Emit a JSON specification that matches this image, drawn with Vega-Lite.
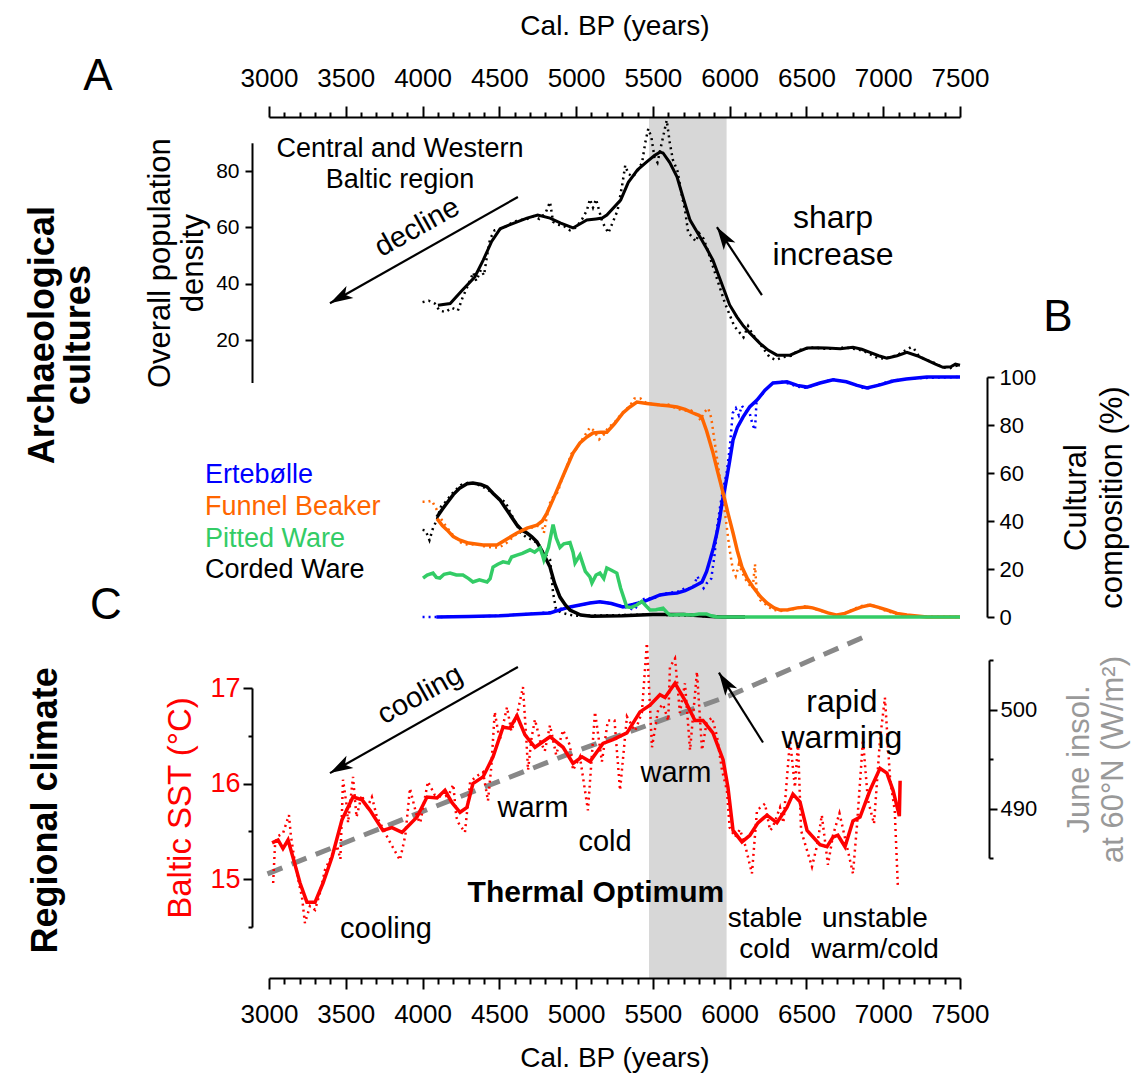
{
"$schema": "https://vega.github.io/schema/vega-lite/v6.json",
"width": 691, "height": 861,
"autosize": {"type": "none"},
"padding": {"left": 269, "top": 117, "right": 181, "bottom": 104},
"background": "white",
"config": {"font": "Liberation Sans", "view": {"stroke": null},
  "axis": {"grid": false, "labelFont": "Liberation Sans", "titleFont": "Liberation Sans", "domainColor": "black", "tickColor": "black", "labelColor": "black", "titleColor": "black", "titleFontWeight": "normal", "domainWidth": 2, "tickWidth": 2, "labelFlush": false, "labelOverlap": false}},
"datasets": {
  "band": [{"start": 5475, "end": 5980}],
  "popS": [{"year":4100,"v":32.4},{"year":4180,"v":33},{"year":4260,"v":37.8},{"year":4340,"v":42.4},{"year":4395,"v":48.4},{"year":4450,"v":55},{"year":4505,"v":59.5},{"year":4570,"v":61},{"year":4680,"v":63.3},{"year":4750,"v":64.4},{"year":4830,"v":63.3},{"year":4900,"v":61.5},{"year":4980,"v":59.8},{"year":5070,"v":62.6},{"year":5130,"v":63},{"year":5170,"v":63.3},{"year":5200,"v":64.4},{"year":5290,"v":69.7},{"year":5340,"v":76},{"year":5400,"v":80.4},{"year":5460,"v":83.2},{"year":5510,"v":85.5},{"year":5546,"v":86.7},{"year":5566,"v":86.4},{"year":5610,"v":83},{"year":5657,"v":77.9},{"year":5700,"v":70},{"year":5742,"v":62.6},{"year":5807,"v":56.6},{"year":5850,"v":52.5},{"year":5891,"v":48.4},{"year":5957,"v":38.8},{"year":6000,"v":32.5},{"year":6048,"v":28.2},{"year":6090,"v":25},{"year":6132,"v":22.5},{"year":6197,"v":18.9},{"year":6250,"v":16.5},{"year":6308,"v":14.7},{"year":6393,"v":14.7},{"year":6450,"v":16},{"year":6504,"v":17.2},{"year":6570,"v":17.3},{"year":6634,"v":17.2},{"year":6720,"v":17},{"year":6803,"v":17.5},{"year":6860,"v":16.8},{"year":6914,"v":15.7},{"year":6970,"v":14.5},{"year":7024,"v":13.6},{"year":7090,"v":14.5},{"year":7154,"v":15.7},{"year":7220,"v":14.5},{"year":7284,"v":12.9},{"year":7340,"v":11.5},{"year":7389,"v":10.4},{"year":7440,"v":10.6},{"year":7470,"v":11.5},{"year":7500,"v":11.1}],
  "popR": [{"year":4000,"v":33.5},{"year":4040,"v":34},{"year":4080,"v":33},{"year":4110,"v":30.5},{"year":4150,"v":30},{"year":4190,"v":31.5},{"year":4230,"v":30.5},{"year":4260,"v":35},{"year":4300,"v":40},{"year":4330,"v":44},{"year":4350,"v":41},{"year":4380,"v":45},{"year":4400,"v":43},{"year":4420,"v":50},{"year":4440,"v":56},{"year":4470,"v":59},{"year":4520,"v":59.5},{"year":4560,"v":61},{"year":4620,"v":62.5},{"year":4680,"v":63},{"year":4720,"v":64},{"year":4760,"v":63},{"year":4800,"v":65},{"year":4830,"v":69},{"year":4850,"v":62},{"year":4880,"v":61},{"year":4920,"v":60.5},{"year":4960,"v":59},{"year":5000,"v":60},{"year":5040,"v":63},{"year":5070,"v":66},{"year":5090,"v":70},{"year":5110,"v":67},{"year":5130,"v":70},{"year":5150,"v":66},{"year":5170,"v":62},{"year":5190,"v":60},{"year":5210,"v":58},{"year":5240,"v":62},{"year":5270,"v":66},{"year":5300,"v":75},{"year":5320,"v":82},{"year":5340,"v":79},{"year":5370,"v":78},{"year":5400,"v":80},{"year":5430,"v":83},{"year":5450,"v":90},{"year":5470,"v":95},{"year":5490,"v":92},{"year":5510,"v":85},{"year":5530,"v":83},{"year":5550,"v":88},{"year":5570,"v":93},{"year":5590,"v":98},{"year":5610,"v":90},{"year":5630,"v":84},{"year":5660,"v":80},{"year":5690,"v":71},{"year":5710,"v":66},{"year":5730,"v":58},{"year":5750,"v":57},{"year":5780,"v":55},{"year":5800,"v":58},{"year":5830,"v":56},{"year":5850,"v":53},{"year":5880,"v":48},{"year":5910,"v":43},{"year":5940,"v":38},{"year":5970,"v":33},{"year":6000,"v":29},{"year":6030,"v":25},{"year":6060,"v":23},{"year":6090,"v":21},{"year":6120,"v":25},{"year":6150,"v":22},{"year":6180,"v":20},{"year":6220,"v":17},{"year":6260,"v":14},{"year":6300,"v":13},{"year":6350,"v":14},{"year":6400,"v":14.5},{"year":6450,"v":16.5},{"year":6500,"v":17},{"year":6550,"v":17.5},{"year":6600,"v":17},{"year":6650,"v":17},{"year":6700,"v":17},{"year":6750,"v":17.5},{"year":6800,"v":17},{"year":6850,"v":16.5},{"year":6900,"v":15.5},{"year":6950,"v":14},{"year":7000,"v":13.5},{"year":7050,"v":14},{"year":7100,"v":15},{"year":7150,"v":16.5},{"year":7180,"v":17.5},{"year":7200,"v":17},{"year":7230,"v":14.5},{"year":7280,"v":13},{"year":7330,"v":12},{"year":7380,"v":10.5},{"year":7430,"v":10},{"year":7480,"v":11},{"year":7500,"v":12}],
  "ertS": [{"year":4090,"v":0},{"year":4300,"v":0.2},{"year":4500,"v":0.5},{"year":4700,"v":1.2},{"year":4830,"v":1.7},{"year":4895,"v":3},{"year":4960,"v":4.2},{"year":5025,"v":5},{"year":5090,"v":5.8},{"year":5155,"v":6.3},{"year":5230,"v":5.6},{"year":5305,"v":4.2},{"year":5370,"v":5.2},{"year":5435,"v":6.3},{"year":5500,"v":8},{"year":5546,"v":9.2},{"year":5600,"v":9.7},{"year":5657,"v":10},{"year":5710,"v":11},{"year":5761,"v":12.5},{"year":5820,"v":14.6},{"year":5850,"v":19},{"year":5872,"v":23.8},{"year":5895,"v":29},{"year":5917,"v":35},{"year":5935,"v":41},{"year":5950,"v":47.5},{"year":5967,"v":53},{"year":5982,"v":58.3},{"year":6000,"v":65},{"year":6022,"v":73.8},{"year":6050,"v":79},{"year":6087,"v":83.3},{"year":6130,"v":87.5},{"year":6178,"v":90.4},{"year":6230,"v":94.5},{"year":6282,"v":97.5},{"year":6373,"v":98},{"year":6440,"v":96.5},{"year":6503,"v":95.8},{"year":6588,"v":97.5},{"year":6673,"v":98.8},{"year":6760,"v":98},{"year":6830,"v":96.5},{"year":6894,"v":95.4},{"year":6979,"v":96.7},{"year":7064,"v":98.3},{"year":7150,"v":99.2},{"year":7284,"v":100},{"year":7500,"v":100}],
  "ertR": [{"year":4000,"v":0},{"year":4050,"v":0},{"year":4100,"v":0},{"year":4300,"v":0.2},{"year":4500,"v":0.5},{"year":4700,"v":1.3},{"year":4830,"v":2},{"year":4900,"v":3.5},{"year":5000,"v":4.5},{"year":5100,"v":6},{"year":5200,"v":6},{"year":5300,"v":4.5},{"year":5380,"v":3},{"year":5420,"v":7},{"year":5460,"v":8},{"year":5500,"v":7.5},{"year":5540,"v":9},{"year":5600,"v":10},{"year":5660,"v":10.5},{"year":5710,"v":12},{"year":5760,"v":12},{"year":5790,"v":17},{"year":5810,"v":14},{"year":5830,"v":12},{"year":5850,"v":14},{"year":5880,"v":16},{"year":5900,"v":25},{"year":5920,"v":38},{"year":5940,"v":47},{"year":5960,"v":54},{"year":5980,"v":60},{"year":6000,"v":70},{"year":6020,"v":85},{"year":6040,"v":87},{"year":6060,"v":84},{"year":6080,"v":88},{"year":6100,"v":86},{"year":6130,"v":85},{"year":6150,"v":80},{"year":6165,"v":78},{"year":6175,"v":90},{"year":6200,"v":92},{"year":6240,"v":95},{"year":6280,"v":97.5},{"year":6350,"v":98},{"year":6440,"v":96},{"year":6500,"v":95.5},{"year":6590,"v":97.5},{"year":6670,"v":99},{"year":6760,"v":98},{"year":6890,"v":95},{"year":6980,"v":97},{"year":7060,"v":98.5},{"year":7200,"v":99.5},{"year":7500,"v":100}],
  "fbS": [{"year":4094,"v":41},{"year":4130,"v":38},{"year":4159,"v":36.3},{"year":4200,"v":33.5},{"year":4244,"v":32},{"year":4300,"v":30.8},{"year":4394,"v":30},{"year":4485,"v":30},{"year":4550,"v":32.5},{"year":4615,"v":35},{"year":4680,"v":37},{"year":4745,"v":38.3},{"year":4780,"v":40},{"year":4810,"v":43.3},{"year":4850,"v":49},{"year":4895,"v":55.8},{"year":4940,"v":62.5},{"year":4980,"v":68.3},{"year":5025,"v":72.5},{"year":5070,"v":75},{"year":5110,"v":76.7},{"year":5160,"v":77},{"year":5200,"v":77},{"year":5250,"v":80.5},{"year":5305,"v":85},{"year":5350,"v":87.5},{"year":5396,"v":89.6},{"year":5460,"v":89},{"year":5546,"v":88.3},{"year":5600,"v":88},{"year":5657,"v":87.5},{"year":5710,"v":86.5},{"year":5761,"v":85},{"year":5800,"v":84},{"year":5820,"v":83},{"year":5850,"v":77.5},{"year":5892,"v":68.3},{"year":5920,"v":61},{"year":5957,"v":51.7},{"year":5990,"v":43},{"year":6022,"v":35},{"year":6050,"v":27.5},{"year":6080,"v":20.8},{"year":6115,"v":16},{"year":6152,"v":12.5},{"year":6200,"v":8.5},{"year":6243,"v":5.8},{"year":6290,"v":3.8},{"year":6328,"v":2.9},{"year":6380,"v":3},{"year":6440,"v":3.8},{"year":6503,"v":4.2},{"year":6540,"v":3.8},{"year":6588,"v":2.9},{"year":6640,"v":1.7},{"year":6699,"v":0.8},{"year":6750,"v":1.5},{"year":6803,"v":2.9},{"year":6860,"v":4.2},{"year":6914,"v":5},{"year":6970,"v":4},{"year":7024,"v":2.9},{"year":7090,"v":1.5},{"year":7154,"v":0.8},{"year":7284,"v":0},{"year":7500,"v":0}],
  "fbR": [{"year":4000,"v":48},{"year":4030,"v":48},{"year":4060,"v":48.5},{"year":4090,"v":45},{"year":4110,"v":42},{"year":4150,"v":38},{"year":4200,"v":34},{"year":4250,"v":31},{"year":4300,"v":30},{"year":4350,"v":30.5},{"year":4400,"v":29.5},{"year":4450,"v":29},{"year":4500,"v":29},{"year":4550,"v":31},{"year":4600,"v":34},{"year":4650,"v":36},{"year":4700,"v":37},{"year":4750,"v":38},{"year":4780,"v":37.5},{"year":4790,"v":35},{"year":4810,"v":42},{"year":4830,"v":47.5},{"year":4850,"v":50},{"year":4880,"v":52},{"year":4900,"v":56},{"year":4940,"v":63},{"year":4970,"v":68},{"year":5000,"v":70},{"year":5030,"v":73},{"year":5060,"v":76},{"year":5090,"v":79},{"year":5110,"v":78},{"year":5130,"v":76},{"year":5150,"v":74},{"year":5180,"v":76},{"year":5210,"v":79},{"year":5250,"v":81},{"year":5300,"v":85},{"year":5350,"v":88},{"year":5380,"v":91},{"year":5420,"v":91},{"year":5460,"v":89},{"year":5520,"v":88.5},{"year":5560,"v":88},{"year":5600,"v":88.5},{"year":5650,"v":87},{"year":5700,"v":86},{"year":5750,"v":86},{"year":5790,"v":84},{"year":5810,"v":82},{"year":5830,"v":85},{"year":5860,"v":87},{"year":5880,"v":83},{"year":5900,"v":74},{"year":5920,"v":65},{"year":5940,"v":56},{"year":5960,"v":48},{"year":5980,"v":38},{"year":6000,"v":28},{"year":6020,"v":20},{"year":6040,"v":17},{"year":6060,"v":22},{"year":6080,"v":19},{"year":6100,"v":16},{"year":6120,"v":14},{"year":6150,"v":12},{"year":6165,"v":22},{"year":6175,"v":11},{"year":6200,"v":7},{"year":6240,"v":5},{"year":6280,"v":3},{"year":6330,"v":2.5},{"year":6400,"v":3},{"year":6450,"v":4},{"year":6500,"v":4.5},{"year":6550,"v":3.5},{"year":6600,"v":2.5},{"year":6650,"v":1.5},{"year":6700,"v":0.8},{"year":6750,"v":1.5},{"year":6800,"v":3},{"year":6850,"v":4.5},{"year":6900,"v":5},{"year":6950,"v":4.5},{"year":7000,"v":3},{"year":7100,"v":1},{"year":7200,"v":0.3},{"year":7500,"v":0}],
  "pwS": [{"year":4003,"v":16.2},{"year":4030,"v":17.5},{"year":4068,"v":18.3},{"year":4090,"v":16.5},{"year":4113,"v":16.2},{"year":4140,"v":17.8},{"year":4179,"v":18.3},{"year":4220,"v":17.5},{"year":4263,"v":17.5},{"year":4300,"v":16},{"year":4328,"v":14.6},{"year":4370,"v":15.5},{"year":4420,"v":14.6},{"year":4440,"v":16},{"year":4459,"v":20.8},{"year":4490,"v":22},{"year":4524,"v":23},{"year":4560,"v":22.5},{"year":4580,"v":25},{"year":4615,"v":25.8},{"year":4650,"v":26.5},{"year":4700,"v":28},{"year":4730,"v":27},{"year":4765,"v":28.8},{"year":4780,"v":26},{"year":4790,"v":23.8},{"year":4820,"v":29},{"year":4850,"v":38.5},{"year":4870,"v":33},{"year":4895,"v":29},{"year":4920,"v":30.5},{"year":4960,"v":31},{"year":4980,"v":27},{"year":4993,"v":22.5},{"year":5025,"v":25.8},{"year":5060,"v":19},{"year":5090,"v":16.7},{"year":5103,"v":14.2},{"year":5130,"v":17.5},{"year":5155,"v":18.3},{"year":5180,"v":16},{"year":5200,"v":20.4},{"year":5230,"v":19.5},{"year":5265,"v":18.3},{"year":5290,"v":12},{"year":5330,"v":4.2},{"year":5360,"v":4},{"year":5396,"v":5},{"year":5428,"v":6.5},{"year":5450,"v":5},{"year":5481,"v":2.9},{"year":5520,"v":3},{"year":5566,"v":3.7},{"year":5590,"v":2},{"year":5611,"v":0.8},{"year":5700,"v":1},{"year":5761,"v":0.8},{"year":5800,"v":1.2},{"year":5850,"v":1.2},{"year":5880,"v":0.5},{"year":5917,"v":0},{"year":7500,"v":0}],
  "cwS": [{"year":4094,"v":41.7},{"year":4130,"v":45},{"year":4159,"v":47.5},{"year":4200,"v":51},{"year":4244,"v":53.8},{"year":4290,"v":55.5},{"year":4328,"v":55.8},{"year":4380,"v":55.2},{"year":4420,"v":54.2},{"year":4460,"v":51.5},{"year":4504,"v":48.8},{"year":4560,"v":43.5},{"year":4615,"v":38.3},{"year":4650,"v":36},{"year":4680,"v":35},{"year":4710,"v":33.5},{"year":4745,"v":31.3},{"year":4790,"v":26},{"year":4830,"v":20.8},{"year":4860,"v":14},{"year":4895,"v":8.3},{"year":4930,"v":5},{"year":4960,"v":2.9},{"year":5030,"v":0.8},{"year":5100,"v":0.3},{"year":5300,"v":0.5},{"year":5500,"v":1},{"year":5700,"v":1},{"year":5850,"v":0.3},{"year":5950,"v":0},{"year":6100,"v":0}],
  "cwR": [{"year":4000,"v":36.3},{"year":4020,"v":36},{"year":4045,"v":32},{"year":4068,"v":37},{"year":4090,"v":40},{"year":4120,"v":46},{"year":4150,"v":48},{"year":4200,"v":52},{"year":4250,"v":55},{"year":4300,"v":56},{"year":4350,"v":55.5},{"year":4400,"v":54},{"year":4450,"v":52},{"year":4500,"v":49},{"year":4540,"v":48},{"year":4560,"v":45},{"year":4600,"v":40},{"year":4640,"v":35},{"year":4680,"v":33},{"year":4720,"v":32},{"year":4760,"v":30},{"year":4784,"v":27},{"year":4800,"v":26},{"year":4830,"v":24},{"year":4850,"v":10},{"year":4870,"v":3},{"year":4900,"v":2},{"year":4950,"v":1},{"year":5000,"v":0.5},{"year":5500,"v":1},{"year":5800,"v":0.5},{"year":5900,"v":0}],
  "sstS": [{"year":3020,"v":15.38},{"year":3059,"v":15.41},{"year":3091,"v":15.32},{"year":3124,"v":15.41},{"year":3156,"v":15.23},{"year":3202,"v":14.96},{"year":3247,"v":14.76},{"year":3300,"v":14.76},{"year":3352,"v":14.96},{"year":3410,"v":15.23},{"year":3475,"v":15.62},{"year":3547,"v":15.86},{"year":3606,"v":15.83},{"year":3658,"v":15.72},{"year":3742,"v":15.51},{"year":3801,"v":15.54},{"year":3866,"v":15.49},{"year":3964,"v":15.65},{"year":4029,"v":15.86},{"year":4094,"v":15.85},{"year":4146,"v":15.93},{"year":4192,"v":15.8},{"year":4244,"v":15.7},{"year":4289,"v":15.75},{"year":4328,"v":16.0},{"year":4394,"v":16.07},{"year":4459,"v":16.28},{"year":4524,"v":16.59},{"year":4569,"v":16.58},{"year":4615,"v":16.71},{"year":4667,"v":16.51},{"year":4732,"v":16.38},{"year":4830,"v":16.49},{"year":4915,"v":16.38},{"year":4980,"v":16.21},{"year":5038,"v":16.28},{"year":5090,"v":16.23},{"year":5175,"v":16.42},{"year":5240,"v":16.46},{"year":5331,"v":16.53},{"year":5416,"v":16.75},{"year":5481,"v":16.82},{"year":5546,"v":16.93},{"year":5579,"v":16.9},{"year":5644,"v":17.05},{"year":5709,"v":16.87},{"year":5774,"v":16.66},{"year":5826,"v":16.66},{"year":5891,"v":16.53},{"year":5957,"v":16.25},{"year":5989,"v":15.96},{"year":6022,"v":15.51},{"year":6080,"v":15.39},{"year":6132,"v":15.46},{"year":6184,"v":15.59},{"year":6243,"v":15.67},{"year":6308,"v":15.59},{"year":6373,"v":15.75},{"year":6412,"v":15.89},{"year":6458,"v":15.81},{"year":6504,"v":15.51},{"year":6588,"v":15.36},{"year":6634,"v":15.34},{"year":6673,"v":15.44},{"year":6705,"v":15.46},{"year":6751,"v":15.34},{"year":6803,"v":15.61},{"year":6849,"v":15.65},{"year":6914,"v":15.93},{"year":6979,"v":16.16},{"year":7024,"v":16.11},{"year":7064,"v":15.93},{"year":7105,"v":15.66},{"year":7110,"v":16.03}],
  "sstR": [{"year":3027,"v":14.96},{"year":3040,"v":15.38},{"year":3059,"v":15.45},{"year":3091,"v":15.48},{"year":3130,"v":15.67},{"year":3143,"v":15.45},{"year":3169,"v":15.17},{"year":3195,"v":14.96},{"year":3215,"v":14.81},{"year":3234,"v":14.54},{"year":3267,"v":14.72},{"year":3300,"v":14.68},{"year":3332,"v":14.86},{"year":3365,"v":15.1},{"year":3398,"v":15.21},{"year":3443,"v":15.35},{"year":3465,"v":15.21},{"year":3482,"v":16.04},{"year":3504,"v":15.79},{"year":3515,"v":15.59},{"year":3547,"v":16.07},{"year":3570,"v":15.65},{"year":3604,"v":15.88},{"year":3637,"v":15.74},{"year":3670,"v":15.86},{"year":3703,"v":15.65},{"year":3790,"v":15.38},{"year":3853,"v":15.2},{"year":3888,"v":15.46},{"year":3918,"v":15.95},{"year":3964,"v":15.65},{"year":3985,"v":15.59},{"year":4035,"v":16.02},{"year":4080,"v":15.88},{"year":4137,"v":15.86},{"year":4170,"v":15.88},{"year":4200,"v":15.99},{"year":4220,"v":15.65},{"year":4233,"v":15.59},{"year":4276,"v":15.49},{"year":4310,"v":16.02},{"year":4364,"v":16.09},{"year":4394,"v":16.12},{"year":4426,"v":15.82},{"year":4448,"v":16.18},{"year":4470,"v":16.75},{"year":4502,"v":16.45},{"year":4550,"v":16.8},{"year":4578,"v":16.55},{"year":4615,"v":16.72},{"year":4654,"v":17.01},{"year":4676,"v":16.46},{"year":4687,"v":16.14},{"year":4710,"v":16.48},{"year":4732,"v":16.67},{"year":4765,"v":16.45},{"year":4796,"v":16.34},{"year":4830,"v":16.61},{"year":4870,"v":16.3},{"year":4915,"v":16.56},{"year":4960,"v":16.4},{"year":4980,"v":16.14},{"year":5025,"v":16.28},{"year":5077,"v":15.72},{"year":5123,"v":16.75},{"year":5168,"v":16.23},{"year":5207,"v":16.66},{"year":5250,"v":16.66},{"year":5286,"v":15.93},{"year":5331,"v":16.7},{"year":5384,"v":16.55},{"year":5428,"v":16.74},{"year":5461,"v":17.47},{"year":5494,"v":16.38},{"year":5535,"v":16.78},{"year":5566,"v":16.83},{"year":5600,"v":16.66},{"year":5611,"v":17.22},{"year":5644,"v":17.31},{"year":5676,"v":16.74},{"year":5709,"v":17.05},{"year":5742,"v":16.35},{"year":5787,"v":17.17},{"year":5820,"v":16.35},{"year":5850,"v":16.64},{"year":5885,"v":16.69},{"year":5917,"v":16.5},{"year":5950,"v":16.14},{"year":5982,"v":15.93},{"year":6000,"v":15.54},{"year":6035,"v":15.44},{"year":6067,"v":15.52},{"year":6100,"v":15.36},{"year":6145,"v":15.06},{"year":6178,"v":15.72},{"year":6230,"v":15.79},{"year":6263,"v":15.51},{"year":6280,"v":15.54},{"year":6328,"v":15.75},{"year":6350,"v":15.59},{"year":6393,"v":16.46},{"year":6425,"v":15.96},{"year":6445,"v":16.43},{"year":6465,"v":15.51},{"year":6536,"v":15.13},{"year":6570,"v":15.36},{"year":6600,"v":15.67},{"year":6640,"v":15.15},{"year":6673,"v":15.46},{"year":6715,"v":15.69},{"year":6803,"v":15.06},{"year":6830,"v":15.58},{"year":6868,"v":16.46},{"year":6900,"v":15.83},{"year":6940,"v":15.58},{"year":6979,"v":16.46},{"year":7011,"v":16.9},{"year":7045,"v":16.04},{"year":7075,"v":15.72},{"year":7096,"v":14.9}],
  "insol": [{"year":2990,"v":483.4},{"year":4000,"v":489.7},{"year":5000,"v":495.8},{"year":6000,"v":501.4},{"year":6900,"v":507.5}],
  "arrows": [
    {"panel":"A","name":"decline","year":4621,"val":70.8,"year2":3397,"val2":33.1},
    {"panel":"A","name":"sharp","year":6210,"val":36,"year2":5917,"val2":60.1},
    {"panel":"C","name":"cooling","year":4621,"val":17.22,"year2":3397,"val2":16.11},
    {"panel":"C","name":"rapid","year":6217,"val":16.43,"year2":5930,"val2":17.16}],
  "notes": [
    {"key":"region","label":"Central and Western\nBaltic region","year":3853,"val":85.0},
    {"key":"decline","label":"decline","year":3964,"val":60.1},
    {"key":"sharp","label":"sharp\nincrease","year":6673,"val":59.8},
    {"key":"A","label":"A","year":1886,"val":108.8},
    {"key":"arch","label":"Archaeological\ncultures","year":1600,"val":21.8},
    {"key":"B","label":"B","year":8138,"val":119.2},
    {"key":"leg","label":"Ertebølle","year":2583,"val":55.8},
    {"key":"leg","label":"Funnel Beaker","year":2583,"val":42.5},
    {"key":"leg","label":"Pitted Ware","year":2583,"val":29.2},
    {"key":"leg","label":"Corded Ware","year":2583,"val":16.25},
    {"key":"C","label":"C","year":1938,"val":17.72},
    {"key":"cooling1","label":"cooling","year":3983,"val":16.93},
    {"key":"rapid","label":"rapid\nwarming","year":6731,"val":16.75},
    {"key":"plain","label":"warm","year":4719,"val":15.65},
    {"key":"plain","label":"cold","year":5188,"val":15.29},
    {"key":"plain","label":"warm","year":5650,"val":16.02},
    {"key":"plain","label":"cooling","year":3762,"val":14.39},
    {"key":"thermal","label":"Thermal Optimum","year":5129,"val":14.76},
    {"key":"pair","label":"stable\ncold","year":6230,"val":14.5},
    {"key":"pair","label":"unstable\nwarm/cold","year":6946,"val":14.5},
    {"key":"regional","label":"Regional climate","year":1620,"val":15.72}]
},
"resolve": {"scale": {"y": "independent"}, "axis": {"x": "independent", "y": "independent"}},
"layer": [
  {"data": {"name": "band"}, "mark": {"type": "rect", "color": "#d7d7d7"},
   "encoding": {
     "x": {"field": "start", "type": "quantitative", "scale": {"domain": [3000, 7500], "nice": false, "zero": false},
       "axis": {"orient": "top", "values": [3000,3500,4000,4500,5000,5500,6000,6500,7000,7500], "format": "d", "tickSize": 11, "labelFontSize": 26, "labelPadding": 15, "title": "Cal. BP (years)", "titleFontSize": 28, "titlePadding": 25, "zindex": 1}},
     "x2": {"field": "end"}}},
  {"data": {"name": "insol"}, "resolve": {"axis": {"x": "independent", "y": "independent"}},
   "layer": [
     {"mark": {"type": "line", "color": "#888888", "strokeWidth": 5, "strokeDash": [16, 10]},
      "encoding": {
        "x": {"field": "year", "type": "quantitative", "scale": {"domain": [3000, 7500], "nice": false, "zero": false}, "axis": null},
        "y": {"field": "v", "type": "quantitative", "scale": {"domain": [485, 505], "range": [741, 543], "nice": false, "zero": false},
          "axis": {"orient": "right", "offset": 29, "values": [490, 500], "tickSize": 8, "labelFontSize": 22, "labelPadding": 3, "title": ["June insol.", "at 60°N (W/m²)"], "titleColor": "#999999", "titleFontSize": 31, "titleAngle": -90, "titleBaseline": "top", "titleLineHeight": 34, "titlePadding": -6}}}},
     {"mark": {"type": "line", "strokeOpacity": 0},
      "encoding": {
        "x": {"field": "year", "type": "quantitative", "scale": {"domain": [3000, 7500], "nice": false, "zero": false}, "axis": null},
        "y": {"field": "v", "type": "quantitative", "scale": {"domain": [485, 505], "range": [741, 543], "nice": false, "zero": false},
          "axis": {"orient": "right", "offset": 29, "values": [485, 495, 505], "tickSize": 4, "labels": false, "domain": false, "title": null}}}}
   ]},
  {"resolve": {"axis": {"x": "independent", "y": "independent"}},
   "layer": [
     {"data": {"name": "popR"}, "mark": {"type": "line", "color": "black", "strokeWidth": 2.5, "strokeDash": [2, 4]},
      "encoding": {
        "x": {"field": "year", "type": "quantitative", "scale": {"domain": [3000, 7500], "nice": false, "zero": false},
          "axis": {"orient": "top", "values": [3100,3200,3300,3400,3600,3700,3800,3900,4100,4200,4300,4400,4600,4700,4800,4900,5100,5200,5300,5400,5600,5700,5800,5900,6100,6200,6300,6400,6600,6700,6800,6900,7100,7200,7300,7400], "tickSize": 5, "labels": false, "domain": false, "title": null, "zindex": 1}},
        "y": {"field": "v", "type": "quantitative", "scale": {"domain": [5, 90], "range": [265.5, 25.8], "nice": false, "zero": false},
          "axis": {"orient": "left", "offset": 17, "values": [20, 40, 60, 80], "tickSize": 7, "labelFontSize": 21, "labelPadding": 6, "title": ["Overall population", "density"], "titleFontSize": 31, "titleLineHeight": 33, "titlePadding": 6}}}},
     {"data": {"name": "popS"}, "mark": {"type": "line", "color": "black", "strokeWidth": 3},
      "encoding": {
        "x": {"field": "year", "type": "quantitative", "scale": {"domain": [3000, 7500], "nice": false, "zero": false}, "axis": null},
        "y": {"field": "v", "type": "quantitative", "scale": {"domain": [5, 90], "range": [265.5, 25.8], "nice": false, "zero": false}, "axis": null}}},
     {"data": {"name": "arrows"}, "transform": [{"filter": "datum.panel === 'A'"}], "mark": {"type": "rule", "color": "black", "strokeWidth": 2.2},
      "encoding": {
        "x": {"field": "year", "type": "quantitative", "scale": {"domain": [3000, 7500], "nice": false, "zero": false}, "axis": null},
        "y": {"field": "val", "type": "quantitative", "scale": {"domain": [5, 90], "range": [265.5, 25.8], "nice": false, "zero": false}, "axis": null},
        "x2": {"field": "year2"}, "y2": {"field": "val2"}}},
     {"data": {"name": "arrows"}, "transform": [{"filter": "datum.name === 'decline'"}], "mark": {"type": "point", "shape": "M0,0 L-0.55,1.8 L0,1.35 L0.55,1.8 Z", "filled": true, "color": "black", "opacity": 1, "size": 650, "angle": 240.6},
      "encoding": {
        "x": {"field": "year2", "type": "quantitative", "scale": {"domain": [3000, 7500], "nice": false, "zero": false}, "axis": null},
        "y": {"field": "val2", "type": "quantitative", "scale": {"domain": [5, 90], "range": [265.5, 25.8], "nice": false, "zero": false}, "axis": null}}},
     {"data": {"name": "arrows"}, "transform": [{"filter": "datum.name === 'sharp'"}], "mark": {"type": "point", "shape": "M0,0 L-0.55,1.8 L0,1.35 L0.55,1.8 Z", "filled": true, "color": "black", "opacity": 1, "size": 650, "angle": 326.5},
      "encoding": {
        "x": {"field": "year2", "type": "quantitative", "scale": {"domain": [3000, 7500], "nice": false, "zero": false}, "axis": null},
        "y": {"field": "val2", "type": "quantitative", "scale": {"domain": [5, 90], "range": [265.5, 25.8], "nice": false, "zero": false}, "axis": null}}},
     {"data": {"name": "notes"}, "transform": [{"filter": "datum.key === 'region'"}], "mark": {"type": "text", "fontSize": 27, "align": "center", "baseline": "alphabetic", "lineBreak": "\n", "lineHeight": 31, "color": "black"},
      "encoding": {
        "x": {"field": "year", "type": "quantitative", "scale": {"domain": [3000, 7500], "nice": false, "zero": false}, "axis": null},
        "y": {"field": "val", "type": "quantitative", "scale": {"domain": [5, 90], "range": [265.5, 25.8], "nice": false, "zero": false}, "axis": null},
        "text": {"field": "label"}}},
     {"data": {"name": "notes"}, "transform": [{"filter": "datum.key === 'decline'"}], "mark": {"type": "text", "fontSize": 29, "align": "center", "baseline": "middle", "angle": 331, "color": "black"},
      "encoding": {
        "x": {"field": "year", "type": "quantitative", "scale": {"domain": [3000, 7500], "nice": false, "zero": false}, "axis": null},
        "y": {"field": "val", "type": "quantitative", "scale": {"domain": [5, 90], "range": [265.5, 25.8], "nice": false, "zero": false}, "axis": null},
        "text": {"field": "label"}}},
     {"data": {"name": "notes"}, "transform": [{"filter": "datum.key === 'sharp'"}], "mark": {"type": "text", "fontSize": 32, "align": "center", "baseline": "alphabetic", "lineBreak": "\n", "lineHeight": 37, "color": "black"},
      "encoding": {
        "x": {"field": "year", "type": "quantitative", "scale": {"domain": [3000, 7500], "nice": false, "zero": false}, "axis": null},
        "y": {"field": "val", "type": "quantitative", "scale": {"domain": [5, 90], "range": [265.5, 25.8], "nice": false, "zero": false}, "axis": null},
        "text": {"field": "label"}}},
     {"data": {"name": "notes"}, "transform": [{"filter": "datum.key === 'A'"}], "mark": {"type": "text", "fontSize": 44, "align": "center", "baseline": "alphabetic", "color": "black"},
      "encoding": {
        "x": {"field": "year", "type": "quantitative", "scale": {"domain": [3000, 7500], "nice": false, "zero": false}, "axis": null},
        "y": {"field": "val", "type": "quantitative", "scale": {"domain": [5, 90], "range": [265.5, 25.8], "nice": false, "zero": false}, "axis": null},
        "text": {"field": "label"}}},
     {"data": {"name": "notes"}, "transform": [{"filter": "datum.key === 'arch'"}], "mark": {"type": "text", "fontSize": 36, "fontWeight": "bold", "align": "center", "baseline": "alphabetic", "angle": 270, "lineBreak": "\n", "lineHeight": 36, "color": "black"},
      "encoding": {
        "x": {"field": "year", "type": "quantitative", "scale": {"domain": [3000, 7500], "nice": false, "zero": false}, "axis": null},
        "y": {"field": "val", "type": "quantitative", "scale": {"domain": [5, 90], "range": [265.5, 25.8], "nice": false, "zero": false}, "axis": null},
        "text": {"field": "label"}}}
  ]},
  {"resolve": {"axis": {"x": "independent", "y": "independent"}},
   "layer": [
     {"data": {"name": "ertR"}, "mark": {"type": "line", "color": "#0000ff", "strokeWidth": 2.5, "strokeDash": [2, 4]},
      "encoding": {
        "x": {"field": "year", "type": "quantitative", "scale": {"domain": [3000, 7500], "nice": false, "zero": false}, "axis": null},
        "y": {"field": "v", "type": "quantitative", "scale": {"domain": [0, 100], "range": [500, 260], "nice": false, "zero": false},
          "axis": {"orient": "right", "offset": 27, "values": [0, 20, 40, 60, 80, 100], "tickSize": 7, "labelFontSize": 22, "labelPadding": 5, "title": ["Cultural", "composition (%)"], "titleFontSize": 31, "titleAngle": -90, "titleBaseline": "top", "titleLineHeight": 36, "titlePadding": -10}}}},
     {"data": {"name": "fbR"}, "mark": {"type": "line", "color": "#ff6600", "strokeWidth": 2.5, "strokeDash": [2, 4]},
      "encoding": {
        "x": {"field": "year", "type": "quantitative", "scale": {"domain": [3000, 7500], "nice": false, "zero": false}, "axis": null},
        "y": {"field": "v", "type": "quantitative", "scale": {"domain": [0, 100], "range": [500, 260], "nice": false, "zero": false}, "axis": null}}},
     {"data": {"name": "cwR"}, "mark": {"type": "line", "color": "black", "strokeWidth": 2.5, "strokeDash": [2, 4]},
      "encoding": {
        "x": {"field": "year", "type": "quantitative", "scale": {"domain": [3000, 7500], "nice": false, "zero": false}, "axis": null},
        "y": {"field": "v", "type": "quantitative", "scale": {"domain": [0, 100], "range": [500, 260], "nice": false, "zero": false}, "axis": null}}},
     {"data": {"name": "ertS"}, "mark": {"type": "line", "color": "#0000ff", "strokeWidth": 3.5},
      "encoding": {
        "x": {"field": "year", "type": "quantitative", "scale": {"domain": [3000, 7500], "nice": false, "zero": false}, "axis": null},
        "y": {"field": "v", "type": "quantitative", "scale": {"domain": [0, 100], "range": [500, 260], "nice": false, "zero": false}, "axis": null}}},
     {"data": {"name": "cwS"}, "mark": {"type": "line", "color": "black", "strokeWidth": 3.5},
      "encoding": {
        "x": {"field": "year", "type": "quantitative", "scale": {"domain": [3000, 7500], "nice": false, "zero": false}, "axis": null},
        "y": {"field": "v", "type": "quantitative", "scale": {"domain": [0, 100], "range": [500, 260], "nice": false, "zero": false}, "axis": null}}},
     {"data": {"name": "fbS"}, "mark": {"type": "line", "color": "#ff6600", "strokeWidth": 3.5},
      "encoding": {
        "x": {"field": "year", "type": "quantitative", "scale": {"domain": [3000, 7500], "nice": false, "zero": false}, "axis": null},
        "y": {"field": "v", "type": "quantitative", "scale": {"domain": [0, 100], "range": [500, 260], "nice": false, "zero": false}, "axis": null}}},
     {"data": {"name": "pwS"}, "mark": {"type": "line", "color": "#33cc66", "strokeWidth": 3.5},
      "encoding": {
        "x": {"field": "year", "type": "quantitative", "scale": {"domain": [3000, 7500], "nice": false, "zero": false}, "axis": null},
        "y": {"field": "v", "type": "quantitative", "scale": {"domain": [0, 100], "range": [500, 260], "nice": false, "zero": false}, "axis": null}}},
     {"data": {"name": "notes"}, "transform": [{"filter": "datum.key === 'leg'"}], "mark": {"type": "text", "fontSize": 27, "align": "left", "baseline": "alphabetic"},
      "encoding": {
        "x": {"field": "year", "type": "quantitative", "scale": {"domain": [3000, 7500], "nice": false, "zero": false}, "axis": null},
        "y": {"field": "val", "type": "quantitative", "scale": {"domain": [0, 100], "range": [500, 260], "nice": false, "zero": false}, "axis": null},
        "text": {"field": "label"},
        "color": {"field": "label", "type": "nominal", "scale": {"domain": ["Ertebølle", "Funnel Beaker", "Pitted Ware", "Corded Ware"], "range": ["#0000ff", "#ff6600", "#33cc66", "#000000"]}, "legend": null}}},
     {"data": {"name": "notes"}, "transform": [{"filter": "datum.key === 'B'"}], "mark": {"type": "text", "fontSize": 44, "align": "center", "baseline": "alphabetic", "color": "black"},
      "encoding": {
        "x": {"field": "year", "type": "quantitative", "scale": {"domain": [3000, 7500], "nice": false, "zero": false}, "axis": null},
        "y": {"field": "val", "type": "quantitative", "scale": {"domain": [0, 100], "range": [500, 260], "nice": false, "zero": false}, "axis": null},
        "text": {"field": "label"}}}
  ]},
  {"resolve": {"axis": {"x": "independent", "y": "independent"}},
   "layer": [
     {"data": {"name": "sstR"}, "mark": {"type": "line", "color": "#ff0000", "strokeWidth": 2.5, "strokeDash": [2, 4]},
      "encoding": {
        "x": {"field": "year", "type": "quantitative", "scale": {"domain": [3000, 7500], "nice": false, "zero": false},
          "axis": {"orient": "bottom", "values": [3000,3500,4000,4500,5000,5500,6000,6500,7000,7500], "format": "d", "tickSize": 11, "labelFontSize": 26, "labelPadding": 12, "title": "Cal. BP (years)", "titleFontSize": 28, "titlePadding": 17, "zindex": 1}},
        "y": {"field": "v", "type": "quantitative", "scale": {"domain": [14.5, 17], "range": [810, 571], "nice": false, "zero": false},
          "axis": {"orient": "left", "offset": 17, "values": [15, 16, 17], "tickSize": 9, "labelFontSize": 27, "labelColor": "#ff0000", "labelPadding": 3, "title": "Baltic SST (°C)", "titleColor": "#ff0000", "titleFontSize": 33, "titlePadding": 12}}}},
     {"data": {"name": "sstS"}, "mark": {"type": "line", "color": "#ff0000", "strokeWidth": 3.5},
      "encoding": {
        "x": {"field": "year", "type": "quantitative", "scale": {"domain": [3000, 7500], "nice": false, "zero": false},
          "axis": {"orient": "bottom", "values": [3100,3200,3300,3400,3600,3700,3800,3900,4100,4200,4300,4400,4600,4700,4800,4900,5100,5200,5300,5400,5600,5700,5800,5900,6100,6200,6300,6400,6600,6700,6800,6900,7100,7200,7300,7400], "tickSize": 6, "labels": false, "domain": false, "title": null, "zindex": 1}},
        "y": {"field": "v", "type": "quantitative", "scale": {"domain": [14.5, 17], "range": [810, 571], "nice": false, "zero": false},
          "axis": {"orient": "left", "offset": 17, "values": [14.5, 15.5, 16.5], "tickSize": 4, "labels": false, "domain": false, "title": null}}}},
     {"data": {"name": "arrows"}, "transform": [{"filter": "datum.panel === 'C'"}], "mark": {"type": "rule", "color": "black", "strokeWidth": 2.2},
      "encoding": {
        "x": {"field": "year", "type": "quantitative", "scale": {"domain": [3000, 7500], "nice": false, "zero": false}, "axis": null},
        "y": {"field": "val", "type": "quantitative", "scale": {"domain": [14.5, 17], "range": [810, 571], "nice": false, "zero": false}, "axis": null},
        "x2": {"field": "year2"}, "y2": {"field": "val2"}}},
     {"data": {"name": "arrows"}, "transform": [{"filter": "datum.name === 'cooling'"}], "mark": {"type": "point", "shape": "M0,0 L-0.55,1.8 L0,1.35 L0.55,1.8 Z", "filled": true, "color": "black", "opacity": 1, "size": 650, "angle": 240.6},
      "encoding": {
        "x": {"field": "year2", "type": "quantitative", "scale": {"domain": [3000, 7500], "nice": false, "zero": false}, "axis": null},
        "y": {"field": "val2", "type": "quantitative", "scale": {"domain": [14.5, 17], "range": [810, 571], "nice": false, "zero": false}, "axis": null}}},
     {"data": {"name": "arrows"}, "transform": [{"filter": "datum.name === 'rapid'"}], "mark": {"type": "point", "shape": "M0,0 L-0.55,1.8 L0,1.35 L0.55,1.8 Z", "filled": true, "color": "black", "opacity": 1, "size": 650, "angle": 327.5},
      "encoding": {
        "x": {"field": "year2", "type": "quantitative", "scale": {"domain": [3000, 7500], "nice": false, "zero": false}, "axis": null},
        "y": {"field": "val2", "type": "quantitative", "scale": {"domain": [14.5, 17], "range": [810, 571], "nice": false, "zero": false}, "axis": null}}},
     {"data": {"name": "notes"}, "transform": [{"filter": "datum.key === 'C'"}], "mark": {"type": "text", "fontSize": 44, "align": "center", "baseline": "alphabetic", "color": "black"},
      "encoding": {
        "x": {"field": "year", "type": "quantitative", "scale": {"domain": [3000, 7500], "nice": false, "zero": false}, "axis": null},
        "y": {"field": "val", "type": "quantitative", "scale": {"domain": [14.5, 17], "range": [810, 571], "nice": false, "zero": false}, "axis": null},
        "text": {"field": "label"}}},
     {"data": {"name": "notes"}, "transform": [{"filter": "datum.key === 'cooling1'"}], "mark": {"type": "text", "fontSize": 29, "align": "center", "baseline": "middle", "angle": 331, "color": "black"},
      "encoding": {
        "x": {"field": "year", "type": "quantitative", "scale": {"domain": [3000, 7500], "nice": false, "zero": false}, "axis": null},
        "y": {"field": "val", "type": "quantitative", "scale": {"domain": [14.5, 17], "range": [810, 571], "nice": false, "zero": false}, "axis": null},
        "text": {"field": "label"}}},
     {"data": {"name": "notes"}, "transform": [{"filter": "datum.key === 'rapid'"}], "mark": {"type": "text", "fontSize": 32, "align": "center", "baseline": "alphabetic", "lineBreak": "\n", "lineHeight": 36, "color": "black"},
      "encoding": {
        "x": {"field": "year", "type": "quantitative", "scale": {"domain": [3000, 7500], "nice": false, "zero": false}, "axis": null},
        "y": {"field": "val", "type": "quantitative", "scale": {"domain": [14.5, 17], "range": [810, 571], "nice": false, "zero": false}, "axis": null},
        "text": {"field": "label"}}},
     {"data": {"name": "notes"}, "transform": [{"filter": "datum.key === 'plain'"}], "mark": {"type": "text", "fontSize": 29, "align": "center", "baseline": "alphabetic", "color": "black"},
      "encoding": {
        "x": {"field": "year", "type": "quantitative", "scale": {"domain": [3000, 7500], "nice": false, "zero": false}, "axis": null},
        "y": {"field": "val", "type": "quantitative", "scale": {"domain": [14.5, 17], "range": [810, 571], "nice": false, "zero": false}, "axis": null},
        "text": {"field": "label"}}},
     {"data": {"name": "notes"}, "transform": [{"filter": "datum.key === 'thermal'"}], "mark": {"type": "text", "fontSize": 30, "fontWeight": "bold", "align": "center", "baseline": "alphabetic", "color": "black"},
      "encoding": {
        "x": {"field": "year", "type": "quantitative", "scale": {"domain": [3000, 7500], "nice": false, "zero": false}, "axis": null},
        "y": {"field": "val", "type": "quantitative", "scale": {"domain": [14.5, 17], "range": [810, 571], "nice": false, "zero": false}, "axis": null},
        "text": {"field": "label"}}},
     {"data": {"name": "notes"}, "transform": [{"filter": "datum.key === 'pair'"}], "mark": {"type": "text", "fontSize": 28, "align": "center", "baseline": "alphabetic", "lineBreak": "\n", "lineHeight": 31, "color": "black"},
      "encoding": {
        "x": {"field": "year", "type": "quantitative", "scale": {"domain": [3000, 7500], "nice": false, "zero": false}, "axis": null},
        "y": {"field": "val", "type": "quantitative", "scale": {"domain": [14.5, 17], "range": [810, 571], "nice": false, "zero": false}, "axis": null},
        "text": {"field": "label"}}},
     {"data": {"name": "notes"}, "transform": [{"filter": "datum.key === 'regional'"}], "mark": {"type": "text", "fontSize": 36, "fontWeight": "bold", "align": "center", "baseline": "alphabetic", "angle": 270, "color": "black"},
      "encoding": {
        "x": {"field": "year", "type": "quantitative", "scale": {"domain": [3000, 7500], "nice": false, "zero": false}, "axis": null},
        "y": {"field": "val", "type": "quantitative", "scale": {"domain": [14.5, 17], "range": [810, 571], "nice": false, "zero": false}, "axis": null},
        "text": {"field": "label"}}}
  ]}
]
}
